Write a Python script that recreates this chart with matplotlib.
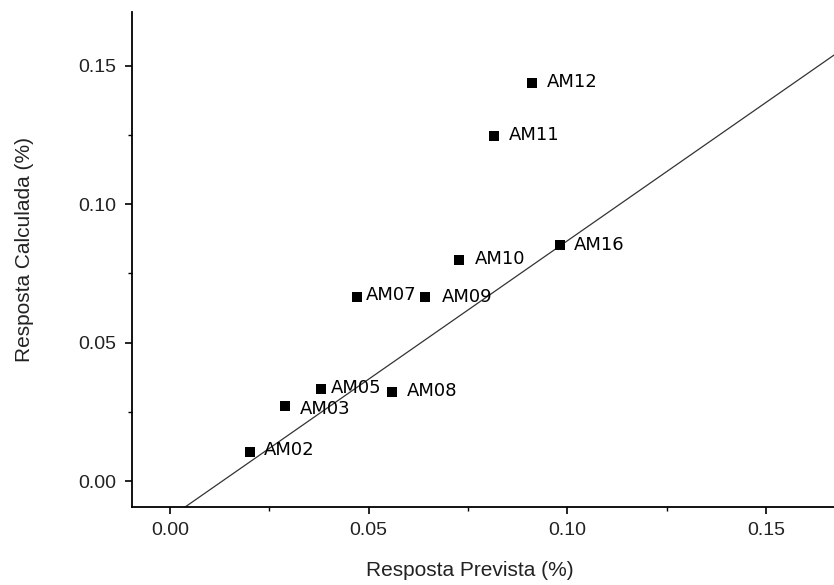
import matplotlib
matplotlib.use("Agg")
import matplotlib.pyplot as plt
import numpy as np
from matplotlib.ticker import MultipleLocator, FormatStrFormatter

# Data
labels = ["AM02", "AM03", "AM05", "AM07", "AM08", "AM09", "AM10", "AM11", "AM12", "AM16"]
prevista = [0.0201, 0.0290, 0.0380, 0.0470, 0.0559, 0.0642, 0.0727, 0.0815, 0.0911, 0.0982]
calculada = [0.0105, 0.0271, 0.0333, 0.0665, 0.0322, 0.0665, 0.0799, 0.1247, 0.1438, 0.0853]
fit_slope = 1.0
fit_intercept = -0.0132

# label offsets in pixels (dx, dy)
offsets = {
    "AM02": (14, 2), "AM03": (15, -3), "AM05": (10, 1), "AM07": (9, 2),
    "AM08": (15, 1), "AM09": (17, 0), "AM10": (16, 1), "AM11": (15, 1),
    "AM12": (15, 1), "AM16": (14, 0),
}

W, H = 834, 585
fig = plt.figure(figsize=(W / 100, H / 100), dpi=100)
ax = fig.add_axes([132 / W, (H - 507) / H, (W - 132) / W, (507 - 12) / H])

xmin = (132 - 170) / 3973
xmax = (834 - 170) / 3973
ymin = (481 - 507) / 2767
ymax = (481 - 12) / 2767
ax.set_xlim(xmin, xmax)
ax.set_ylim(ymin, ymax)

xs = np.array([xmin, xmax])
ax.plot(xs, fit_slope * xs + fit_intercept, color="#333333", lw=0.9, zorder=1)

ax.scatter(prevista, calculada, marker="s", s=52, color="black", zorder=3, linewidths=0)

for lab, x, y in zip(labels, prevista, calculada):
    dx, dy = offsets[lab]
    ax.annotate(lab, (x, y), xytext=(dx * 0.72, dy * 0.72), textcoords="offset points",
                ha="left", va="center", fontsize=13, family="DejaVu Sans", color="black")

for s in ["top", "right"]:
    ax.spines[s].set_visible(False)
for s in ["left", "bottom"]:
    ax.spines[s].set_linewidth(1.3)

ax.xaxis.set_major_locator(MultipleLocator(0.05))
ax.xaxis.set_minor_locator(MultipleLocator(0.025))
ax.yaxis.set_major_locator(MultipleLocator(0.05))
ax.yaxis.set_minor_locator(MultipleLocator(0.025))
ax.xaxis.set_major_formatter(FormatStrFormatter("%.2f"))
ax.yaxis.set_major_formatter(FormatStrFormatter("%.2f"))
ax.tick_params(which="major", direction="out", length=5, width=1.2, labelsize=14, pad=6)
ax.tick_params(which="minor", direction="out", length=3, width=1.0)
for t in ax.get_xticklabels() + ax.get_yticklabels():
    t.set_family("Liberation Sans")
    t.set_color("#222222")

ax.set_xlabel("Resposta Prevista (%)", fontsize=15, family="Liberation Sans", color="#222222")
ax.set_ylabel("Resposta Calculada (%)", fontsize=15, family="Liberation Sans", color="#222222")
ax.xaxis.label.set_va("center")
ax.yaxis.label.set_va("center")
ax.xaxis.set_label_coords((470 - 132) / (W - 132), -(570 - 507) / (507 - 12))
ax.yaxis.set_label_coords(-(132 - 25) / (W - 132), (507 - 250) / (507 - 12))

fig.savefig("out.png", dpi=100)
